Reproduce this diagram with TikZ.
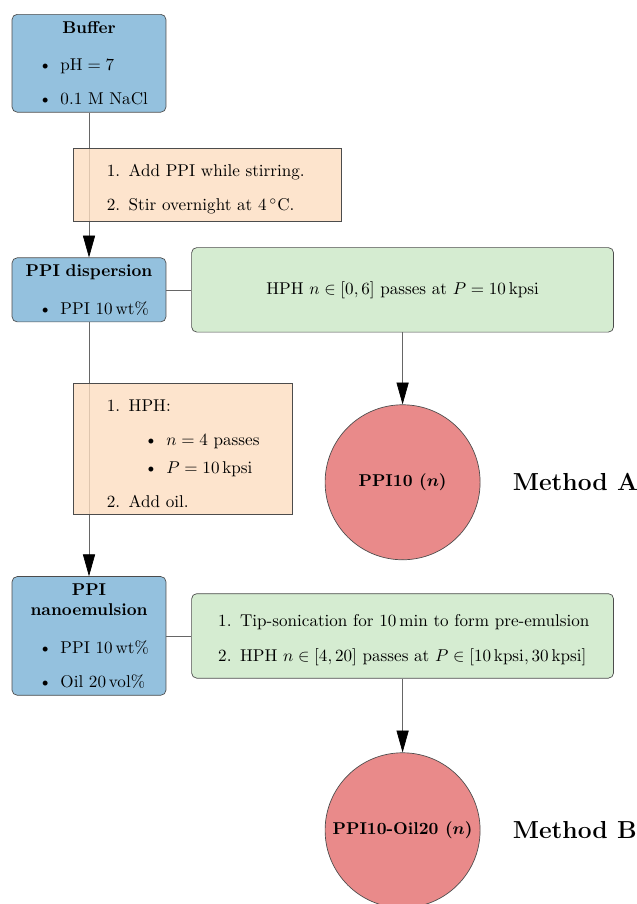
\documentclass[tikz,border=0pt]{standalone}
\usepackage{amsmath}
\usepackage{tikz}
\usetikzlibrary{shapes,positioning,calc,arrows.meta}
\definecolor{sampleblue}{RGB}{148,193,222}
\definecolor{processgreen}{RGB}{213,236,209}
\definecolor{recipeorange}{RGB}{252,221,192}
\definecolor{productred}{RGB}{233,138,138}

\begin{document}
\begin{tikzpicture}
  [box/.style={
    rectangle,
    draw=black!70,
    align=left,
    text width=#1
    },
   listbox/.style={execute at begin node=\csname @minipagetrue\endcsname},
   sample/.style={box=2.93cm, rounded corners=3pt, fill=sampleblue, inner ysep=4pt, anchor=north},
   process/.style={box=8.44cm, rounded corners=3pt, fill=processgreen, minimum height=1.737cm},
   recipe/.style={box=#1, listbox, fill=recipeorange, fill opacity=0.8, text opacity=1, inner xsep=2.6mm, inner ysep=1.5mm},
   product/.style={circle, draw=black!70, fill=productred, minimum size=3.187cm, font=\bfseries\boldmath},
   link/.style={draw=black!60},
   flow/.style={link, -{Triangle[length=4.5mm,width=2.5mm,black]}},
   method/.style={font=\Large\bfseries}
  ]
  \useasboundingbox (0,0) rectangle (13.076,-18.586);

  \node [sample] (buffer) at (1.830,-0.288)
    {{\centering\textbf{Buffer}\par}
     \begin{itemize}
       \item $\mathrm{pH} = 7$
       \item 0.1 M NaCl
     \end{itemize}};
  \node [sample, below=2.98cm of buffer] (dispersion)
    {{\centering\textbf{PPI dispersion}\par}
     \begin{itemize}
       \item PPI 10\,wt\%
     \end{itemize}};
  \node [sample, below=5.222cm of dispersion] (nanoemulsion)
    {{\centering\textbf{PPI nanoemulsion}\par}
     \begin{itemize}
       \item PPI 10\,wt\%
       \item Oil 20\,vol\%
     \end{itemize}};

  \node [process, align=flush center, right=0.514cm of dispersion] (hphA)
    {HPH $n \in [0,6]$ passes at $P = 10\,\mathrm{kpsi}$};
  \node [process, listbox, right=0.514cm of nanoemulsion] (hphB)
    {\begin{enumerate}
       \item \makebox[7.18cm][s]{Tip-sonication for 10\,min to form pre-emulsion}
       \item HPH $n \in [4,20]$ passes at $P \in [10\,\mathrm{kpsi}, 30\,\mathrm{kpsi}]$
     \end{enumerate}};

  \node [product, below=1.48cm of hphA] (ppiA) {PPI10 ($n$)};
  \node [product, below=1.52cm of hphB] (ppiB) {PPI10-Oil20 ($n$)};
  \node [method, right=0.54cm of ppiA] (methodA) {Method A};
  \node [method, right=0.54cm of ppiB] (methodB) {Method B};

  \draw [flow] (buffer) -- (dispersion);
  \draw [flow] (dispersion) -- (nanoemulsion);
  \draw [link] (dispersion) -- (hphA);
  \draw [link] (nanoemulsion) -- (hphB);
  \draw [flow] (hphA) -- (ppiA);
  \draw [flow] (hphB) -- (ppiB);

  % recipes sit on top of the vertical arrows
  \node [recipe=4.99cm, anchor=west] (stirring)
    at ($(buffer.south)!0.5!(dispersion.north) + (-0.329,0)$)
    {\begin{enumerate}
       \item Add PPI while stirring.
       \item Stir overnight at $4\,^{\circ}\mathrm{C}$.
     \end{enumerate}};
  \node [recipe=3.98cm, anchor=west] (homogenising)
    at ($(dispersion.south)!0.5!(nanoemulsion.north) + (-0.329,0)$)
    {\begin{enumerate}
       \item HPH:
       \begin{itemize}
         \item $n = 4$ passes
         \item $P = 10\,\mathrm{kpsi}$
       \end{itemize}
       \item Add oil.
     \end{enumerate}};
\end{tikzpicture}
\end{document}
